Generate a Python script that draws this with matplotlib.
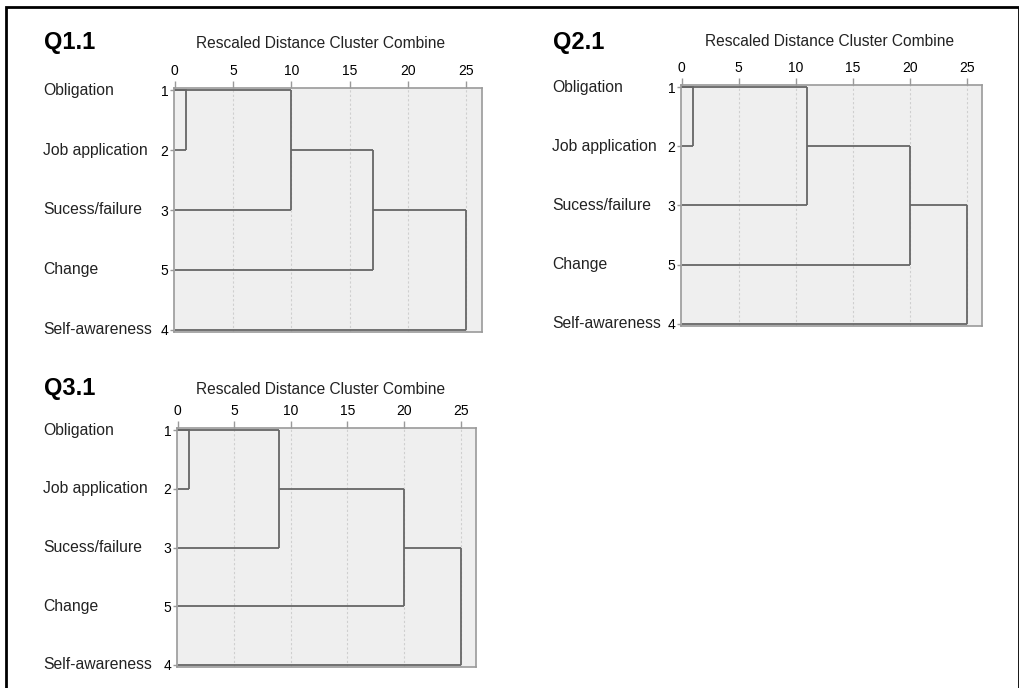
import matplotlib
matplotlib.use("Agg")
import matplotlib.pyplot as plt
from matplotlib.patches import Rectangle
import matplotlib.transforms as mtransforms

plt.rcParams['font.family'] = ['Liberation Sans', 'DejaVu Sans']

# leaves in dendrogram order (top to bottom)
labels = ["Obligation", "Job application", "Sucess/failure", "Change", "Self-awareness"]
case_ids = ["1", "2", "3", "5", "4"]

# rescaled distance at which the next leaf joins the growing cluster
q11_heights = [1, 10, 17, 25]
q21_heights = [1, 11, 20, 25]
q31_heights = [1, 9, 20, 25]

xticks = [0, 5, 10, 15, 20, 25]

line_col = '#666666'
frame_col = '#9a9a9a'

fig = plt.figure(figsize=(10.2, 6.88), dpi=100)

# outer frame around everything
fig.patches.append(Rectangle((6 / 1020, -0.01), 1013 / 1020, 1 - 7 / 688 + 0.01,
                             transform=fig.transFigure, fill=False, ec='black',
                             lw=2, clip_on=False))


def dendro(rect, heights, qname, name_x, q_xy, title_xy):
    ax = fig.add_axes(rect)
    ax.set_facecolor('#efefef')
    ax.set_xlim(-0.05, 26.35)
    ax.set_ylim(4.04, -0.04)

    # sequential agglomeration: cluster joins next leaf
    cur_y = 0
    cur_h = 0
    for i, h in enumerate(heights):
        leaf_y = i + 1
        ax.plot([cur_h, h], [cur_y, cur_y], color=line_col, lw=1.3, solid_capstyle='butt')
        ax.plot([0, h], [leaf_y, leaf_y], color=line_col, lw=1.3, solid_capstyle='butt')
        ax.plot([h, h], [cur_y, leaf_y], color=line_col, lw=1.3, solid_capstyle='butt')
        cur_y = (cur_y + leaf_y) // 2
        cur_h = h
    ax.plot([0, heights[0]], [0, 0], color=line_col, lw=1.3)

    for x in xticks[1:]:
        ax.axvline(x, color='#cfcfcf', lw=0.8, ls=(0, (2, 2)), zorder=0)

    ax.xaxis.tick_top()
    ax.set_xticks(xticks)
    ax.set_xticklabels([str(t) for t in xticks], fontsize=10)
    ax.tick_params(axis='x', length=5, width=1, color=frame_col, pad=2)
    ax.set_yticks(range(len(case_ids)))
    ax.set_yticklabels(case_ids, fontsize=10)
    ax.tick_params(axis='y', length=3, width=1, color=frame_col, pad=1)
    for s in ax.spines.values():
        s.set_color(frame_col)
        s.set_linewidth(1.2)

    trans = mtransforms.blended_transform_factory(fig.transFigure, ax.transData)
    for i, lab in enumerate(labels):
        ax.text(name_x / 1020, i, lab, transform=trans, fontsize=11.3,
                ha='left', va='center', color='#222222')

    fig.text(q_xy[0] / 1020, 1 - q_xy[1] / 688, qname, fontsize=17,
             fontweight='bold', ha='left', va='center')
    fig.text(title_xy[0] / 1020, 1 - title_xy[1] / 688,
             "Rescaled Distance Cluster Combine", fontsize=11.2,
             ha='center', va='center', color='#222222')
    return ax


dendro([174 / 1020, 1 - 332 / 688, 308 / 1020, 244 / 688], q11_heights,
       "Q1.1", 43, (44, 43), (321, 44))
dendro([681 / 1020, 1 - 326 / 688, 301 / 1020, 241 / 688], q21_heights,
       "Q2.1", 552, (553, 42), (830, 41))
dendro([177 / 1020, 1 - 667 / 688, 299 / 1020, 239 / 688], q31_heights,
       "Q3.1", 43, (44, 389), (321, 389))

fig.savefig("out.png", dpi=100, facecolor='white')
